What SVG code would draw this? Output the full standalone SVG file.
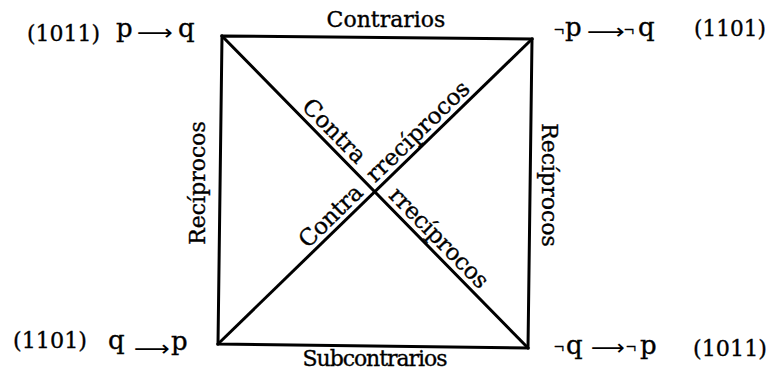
<svg xmlns="http://www.w3.org/2000/svg" width="772" height="376" viewBox="0 0 772 376">
<style>
.t{font-family:"DejaVu Serif","Liberation Serif",serif;font-size:22px;fill:#000;stroke:#000;stroke-width:0.35}
.g{font-family:"DejaVu Serif","Liberation Serif",serif;font-size:23px;fill:#000;stroke:#000;stroke-width:0.35}
.v{font-family:"DejaVu Serif","Liberation Serif",serif;font-size:26px;fill:#000;stroke:#000;stroke-width:0.35}
.d{font-family:"DejaVu Serif","Liberation Serif",serif;font-size:23px;fill:#000;stroke:#000;stroke-width:0.35}
.n{font-family:"Liberation Serif","DejaVu Serif",serif;font-size:18px;fill:#000;stroke:#000;stroke-width:0.4}
.a{font-family:"DejaVu Sans","Noto Sans",sans-serif;font-size:22px;fill:#000}
.ln{stroke:#000;stroke-width:3;fill:none;stroke-linejoin:miter;stroke-linecap:square}
</style>
<rect width="772" height="376" fill="#fff"/>
<g id="connectors">
  <polygon class="ln" points="222,36 532,39 528,348 218,344"/>
  <line class="ln" x1="222" y1="36" x2="528" y2="348"/>
  <line class="ln" x1="218" y1="344" x2="532" y2="39"/>
</g>
<g id="edge-labels">
  <text class="t" x="386" y="27" text-anchor="middle">Contrarios</text>
  <text class="t" x="375" y="366" text-anchor="middle" textLength="145">Subcontrarios</text>
  <text class="t" transform="translate(205,183) rotate(-90)" text-anchor="middle">Recíprocos</text>
  <text class="t" transform="translate(542,185) rotate(90)" text-anchor="middle">Recíprocos</text>
  <g transform="translate(375,192) rotate(45.55)">
    <text class="d" x="-112" y="-6" textLength="80">Contra</text>
    <text class="d" x="12" y="-6" textLength="131">rrecíprocos</text>
  </g>
  <g transform="translate(375,192) rotate(-44.17)">
    <text class="d" x="-88" y="-6" textLength="79">Contra</text>
    <text class="d" x="6" y="-6" textLength="134">rrecíprocos</text>
  </g>
</g>
<g id="node-pq">
  <text class="g" x="27" y="41" textLength="73" lengthAdjust="spacingAndGlyphs">(1011)</text>
  <text class="v" x="116" y="37">p</text>
  <text class="a" x="137" y="40" textLength="36" lengthAdjust="spacingAndGlyphs">⟶</text>
  <text class="v" x="178" y="37">q</text>
</g>
<g id="node-npnq">
  <text class="n" x="554" y="36">¬</text>
  <text class="v" x="565" y="36">p</text>
  <text class="a" x="587" y="39" textLength="38" lengthAdjust="spacingAndGlyphs">⟶</text>
  <text class="n" x="624" y="36">¬</text>
  <text class="v" x="638" y="36">q</text>
  <text class="g" x="694" y="36" textLength="72" lengthAdjust="spacingAndGlyphs">(1101)</text>
</g>
<g id="node-qp">
  <text class="g" x="13" y="348" textLength="74" lengthAdjust="spacingAndGlyphs">(1101)</text>
  <text class="v" x="108" y="349">q</text>
  <text class="a" x="134" y="356" textLength="36" lengthAdjust="spacingAndGlyphs">⟶</text>
  <text class="v" x="171" y="350">p</text>
</g>
<g id="node-nqnp">
  <text class="n" x="554" y="353">¬</text>
  <text class="v" x="566" y="354">q</text>
  <text class="a" x="591" y="355" textLength="34" lengthAdjust="spacingAndGlyphs">⟶</text>
  <text class="n" x="626" y="353">¬</text>
  <text class="v" x="640" y="354">p</text>
  <text class="g" x="693" y="356" textLength="74" lengthAdjust="spacingAndGlyphs">(1011)</text>
</g>
</svg>
